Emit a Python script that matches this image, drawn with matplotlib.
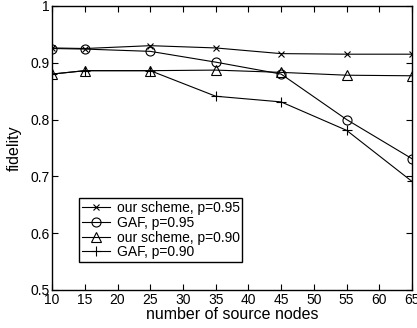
import matplotlib
matplotlib.use("Agg")
import matplotlib.pyplot as plt

plt.rcParams['font.family'] = ['Liberation Sans', 'DejaVu Sans']

x = [10, 15, 25, 35, 45, 55, 65]
ours_95 = [0.926, 0.925, 0.930, 0.926, 0.916, 0.915, 0.915]
gaf_95 = [0.925, 0.924, 0.920, 0.901, 0.880, 0.800, 0.731]
ours_90 = [0.880, 0.886, 0.886, 0.887, 0.883, 0.878, 0.877]
gaf_90 = [0.880, 0.886, 0.886, 0.841, 0.831, 0.781, 0.691]
labels = ['our scheme, p=0.95', 'GAF, p=0.95', 'our scheme, p=0.90', 'GAF, p=0.90']

fig = plt.figure(figsize=(4.17, 3.28), dpi=100)
ax = fig.add_axes([0.125, 0.116, 0.863, 0.866])
lw = 0.8
ax.plot(x, ours_95, 'k-x', lw=lw, ms=5, mew=0.8, mfc='none', label=labels[0])
ax.plot(x, gaf_95, 'k-o', lw=lw, ms=6.5, mew=0.8, mfc='none', label=labels[1])
ax.plot(x, ours_90, 'k-^', lw=lw, ms=7, mew=0.8, mfc='none', label=labels[2])
ax.plot(x, gaf_90, 'k-+', lw=lw, ms=7, mew=0.8, mfc='none', label=labels[3])

ax.set_xlim(10, 65)
ax.set_ylim(0.5, 1.0)
ax.set_xticks(range(10, 66, 5))
ax.set_yticks([0.5, 0.6, 0.7, 0.8, 0.9, 1.0])
ax.set_yticklabels(['0.5', '0.6', '0.7', '0.8', '0.9', '1'])
ax.tick_params(direction='in', top=True, right=True, labelsize=10, length=4, width=0.8, pad=2)
for s in ax.spines.values():
    s.set_linewidth(1.0)
ax.set_xlabel('number of source nodes', fontsize=11.5, labelpad=0)
ax.set_ylabel('fidelity', fontsize=11.5, labelpad=6)

leg = ax.legend(loc='lower left', bbox_to_anchor=(0.075, 0.098), fontsize=10,
                frameon=True, fancybox=False, edgecolor='black', framealpha=1,
                borderpad=0.2, labelspacing=0.05, handlelength=2.0, handletextpad=0.5,
                borderaxespad=0)
leg.get_frame().set_linewidth(1.0)

fig.savefig('out.png', dpi=100)
